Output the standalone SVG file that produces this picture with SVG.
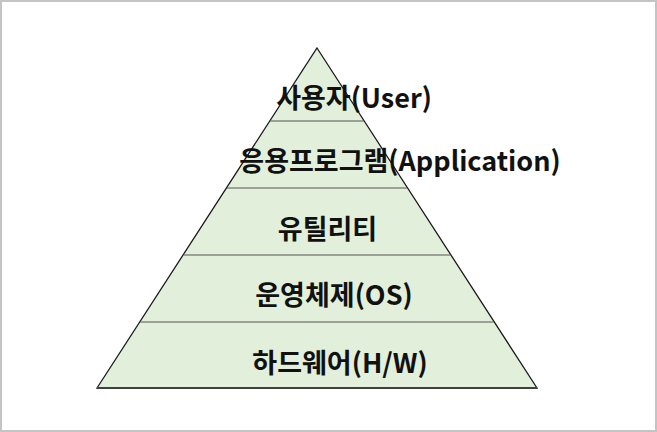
<svg xmlns="http://www.w3.org/2000/svg" width="657" height="432" viewBox="0 0 657 432">
  <style>
    .frame { fill: #ffffff; stroke: #c4c4c4; stroke-width: 2; }
    .tri { fill: #e2efda; stroke: #1a1a1a; stroke-width: 1.3; stroke-linejoin: miter; }
    .base { stroke: #404040; stroke-width: 2; }
    .div { stroke: #555555; stroke-width: 1.2; }
    .lbl { font-family: "Noto Sans CJK KR", "Noto Sans", sans-serif; font-weight: bold; font-size: 27px; fill: #111111; text-anchor: middle; }
  </style>
  <rect class="frame" x="1" y="1" width="655" height="430"/>
  <g id="pyramid">
    <polygon class="tri" points="317,48 537,388 97,388"/>
    <line class="base" x1="97" y1="388" x2="537" y2="388"/>
  </g>
  <g id="dividers">
    <line class="div" x1="270.2" y1="121" x2="363.8" y2="121"/>
    <line class="div" x1="226.8" y1="188" x2="407.2" y2="188"/>
    <line class="div" x1="183.5" y1="255" x2="450.5" y2="255"/>
    <line class="div" x1="140.2" y1="322" x2="493.8" y2="322"/>
  </g>
  <g id="layer-user"><text class="lbl" x="354" y="108">사용자(User)</text></g>
  <g id="layer-application"><text class="lbl" x="400" y="171">응용프로그램(Application)</text></g>
  <g id="layer-utility"><text class="lbl" x="327.5" y="239">유틸리티</text></g>
  <g id="layer-os"><text class="lbl" x="334" y="305">운영체제(OS)</text></g>
  <g id="layer-hw"><text class="lbl" x="340" y="373">하드웨어(H/W)</text></g>
</svg>
